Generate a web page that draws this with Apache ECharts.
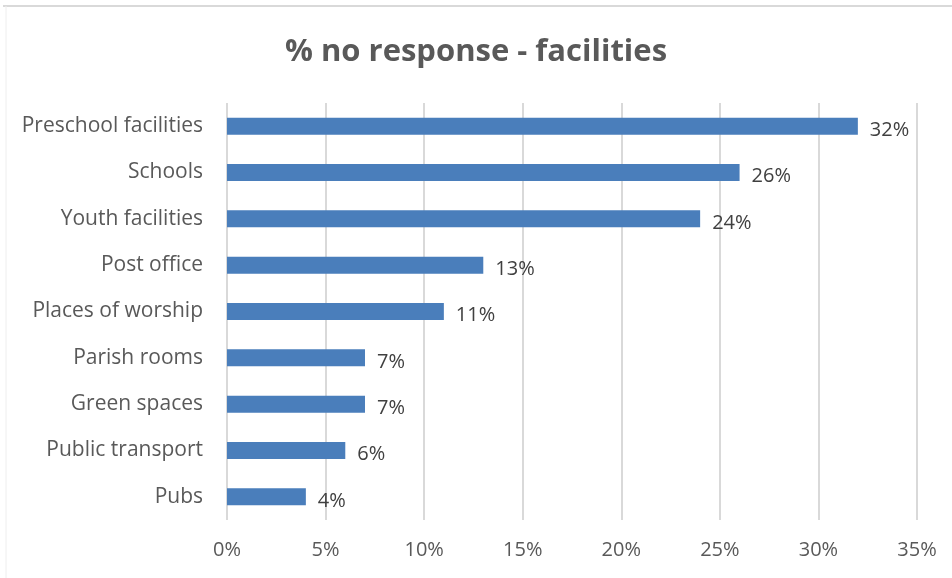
<!DOCTYPE html>
<html>
<head>
<meta charset="utf-8">
<script src="https://cdn.jsdelivr.net/npm/echarts@6/dist/echarts.min.js"></script>
<style>
  html, body { margin: 0; padding: 0; background: #ffffff; }
  #chart { width: 952px; height: 578px; }
</style>
</head>
<body>
<div id="chart"></div>
<script>
// Facilities with no response, share of respondents (%)
const categories = [
  'Preschool facilities', 'Schools', 'Youth facilities', 'Post office',
  'Places of worship', 'Parish rooms', 'Green spaces', 'Public transport', 'Pubs'
];
const noResponse = [32, 26, 24, 13, 11, 7, 7, 6, 4];
const axisMin = 0;
const axisMax = 35;
const axisStep = 5;

const FONT = '"Open Sans", "Noto Sans", sans-serif';
const chart = echarts.init(document.getElementById('chart'), null, { renderer: 'canvas' });

chart.setOption({
  animation: false,
  backgroundColor: '#ffffff',
  title: {
    text: '% no response - facilities',
    left: 'center',
    top: 32,
    textStyle: { fontFamily: FONT, fontSize: 31, fontWeight: 'bold', color: '#595959' }
  },
  graphic: [
    { type: 'line', shape: { x1: 3, y1: 6, x2: 952, y2: 6 }, style: { stroke: '#d9d9d9', lineWidth: 2 } },
    { type: 'line', shape: { x1: 6, y1: 6, x2: 6, y2: 578 }, style: { stroke: '#eeeeee', lineWidth: 1 } }
  ],
  grid: { left: 227, right: 35, top: 103, bottom: 58 },
  xAxis: {
    type: 'value',
    min: axisMin,
    max: axisMax,
    interval: axisStep,
    axisLine: { show: false },
    axisTick: { show: false },
    splitLine: { show: true, lineStyle: { color: '#d9d9d9', width: 2 } },
    axisLabel: {
      margin: 20,
      fontFamily: FONT, fontSize: 20, color: '#595959',
      formatter: v => v + '%'
    }
  },
  yAxis: {
    type: 'category',
    inverse: true,
    data: categories,
    axisLine: { show: false },
    axisTick: { show: false },
    axisLabel: { margin: 24, fontFamily: FONT, fontSize: 21, color: '#595959' }
  },
  series: [{
    type: 'bar',
    data: noResponse,
    barWidth: 17,
    itemStyle: { color: '#4a7ebb' },
    label: {
      show: true,
      position: 'right',
      distance: 12,
      offset: [0, 4],
      fontFamily: FONT, fontSize: 20, color: '#404040',
      formatter: p => p.value + '%'
    }
  }]
});
</script>
</body>
</html>
